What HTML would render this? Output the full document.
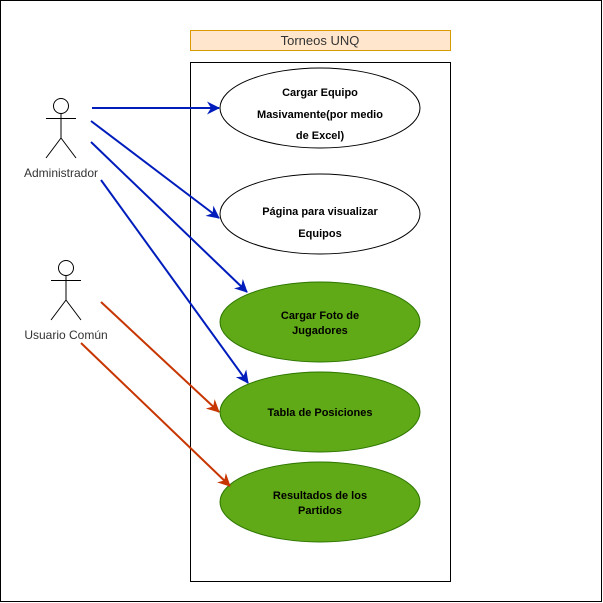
<!DOCTYPE html>
<html><head><meta charset="utf-8"><style>body{margin:0;background:#fff}svg{display:block}</style></head><body>
<svg width="603" height="603" xmlns="http://www.w3.org/2000/svg" font-family="Liberation Sans, Arial, sans-serif">
<defs>
<marker id="ab" markerWidth="13" markerHeight="13" refX="12" refY="6.5" orient="auto" markerUnits="userSpaceOnUse"><path d="M0,0 L13,6.5 L0,13 L4,6.5 Z" fill="#001DBC"/></marker>
<marker id="ar" markerWidth="13" markerHeight="13" refX="12" refY="6.5" orient="auto" markerUnits="userSpaceOnUse"><path d="M0,0 L13,6.5 L0,13 L4,6.5 Z" fill="#C73500"/></marker>
</defs>
<rect x="0.5" y="0.5" width="601" height="601" fill="#fff" stroke="#000"/>
<rect x="190.5" y="30.5" width="260" height="20" fill="#ffe6cc" stroke="#d79b00"/>
<text x="320" y="45" font-size="13" text-anchor="middle" fill="#333">Torneos UNQ</text>
<rect x="190.5" y="62.5" width="260" height="519" fill="#fff" stroke="#000"/>
<g stroke="#000" fill="#fff">
<ellipse cx="320" cy="108" rx="100" ry="40"/>
<ellipse cx="320" cy="214" rx="100" ry="40"/>
</g>
<g stroke="#2d7600" fill="#60a917">
<ellipse cx="320" cy="322" rx="100" ry="40"/>
<ellipse cx="320" cy="412" rx="100" ry="40"/>
<ellipse cx="320" cy="502" rx="100" ry="40"/>
</g>
<g font-size="11" font-weight="bold" text-anchor="middle" fill="#000">
<text x="320" y="96">Cargar Equipo</text>
<text x="320" y="118">Masivamente(por medio</text>
<text x="320" y="139">de Excel)</text>
<text x="320" y="215">Página para visualizar</text>
<text x="320" y="237">Equipos</text>
<text x="320" y="319">Cargar Foto de</text>
<text x="320" y="334">Jugadores</text>
<text x="320" y="416">Tabla de Posiciones</text>
<text x="320" y="499">Resultados de los</text>
<text x="320" y="514">Partidos</text>
</g>
<g stroke="#000" fill="none">
<circle cx="61" cy="106" r="7.5" fill="#fff"/>
<path d="M61,113.5 V138 M46,118.5 H76 M61,138 L46,158 M61,138 L76,158"/>
<circle cx="66" cy="268" r="7.5" fill="#fff"/>
<path d="M66,275.5 V300 M51,280.5 H81 M66,300 L51,320 M66,300 L81,320"/>
</g>
<g font-size="12" text-anchor="middle" fill="#333">
<text x="61" y="177">Administrador</text>
<text x="66" y="339">Usuario Común</text>
</g>
<g stroke="#001DBC" stroke-width="2" fill="none" marker-end="url(#ab)">
<line x1="92" y1="108" x2="219" y2="108"/>
<line x1="91" y1="121" x2="219" y2="218"/>
<line x1="91" y1="142" x2="247" y2="292"/>
<line x1="101" y1="180" x2="248" y2="383"/>
</g>
<g stroke="#C73500" stroke-width="2" fill="none" marker-end="url(#ar)">
<line x1="101" y1="302" x2="219" y2="412"/>
<line x1="81" y1="343" x2="230" y2="486"/>
</g>
</svg>
</body></html>
